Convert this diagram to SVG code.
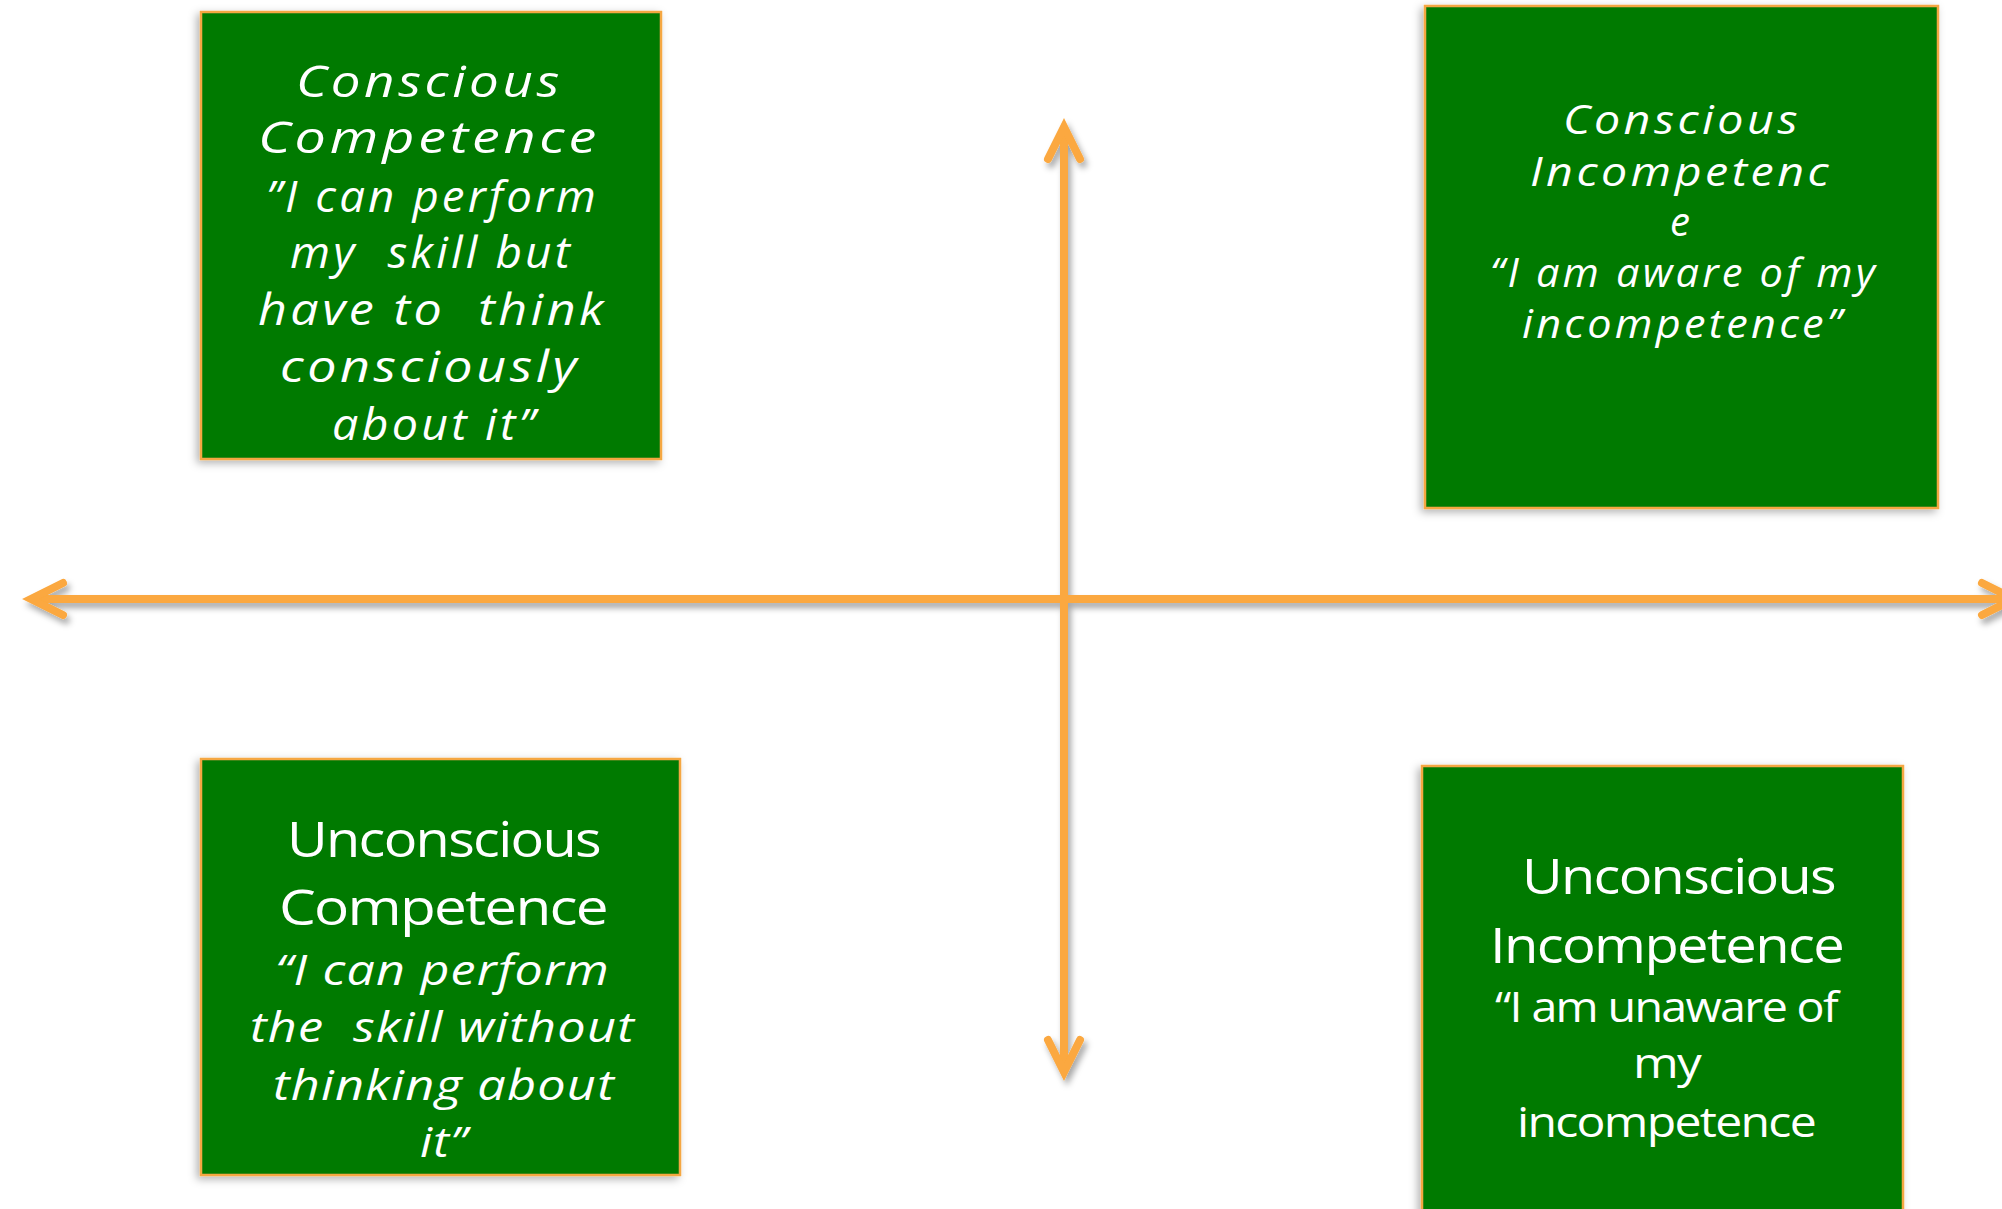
<svg xmlns="http://www.w3.org/2000/svg" width="2002" height="1209" viewBox="0 0 2002 1209">
  <defs>
    <filter id="axisShadow" x="-5%" y="-5%" width="110%" height="110%">
      <feDropShadow dx="3" dy="5" stdDeviation="3" flood-color="#000" flood-opacity="0.35"/>
    </filter>
    <filter id="boxShadow" x="-10%" y="-10%" width="120%" height="120%">
      <feDropShadow dx="-3" dy="3" stdDeviation="4" flood-color="#000" flood-opacity="0.3"/>
    </filter>
    <marker id="chevron" markerUnits="userSpaceOnUse" viewBox="-40 -24 48 48" markerWidth="48" markerHeight="48" refX="0" refY="0" orient="auto-start-reverse" overflow="visible">
      <path d="M -32 -16 L 0 0 L -32 16" fill="none" stroke="#FBA83F" stroke-width="8" stroke-linecap="round" stroke-linejoin="miter"/>
    </marker>
  </defs>
  <style>
    .box { fill: #047A04; stroke: #F5A742; stroke-width: 2.5; filter: url(#boxShadow); }
    .axis { fill: none; stroke: #FBA83F; stroke-width: 8; marker-start: url(#chevron); marker-end: url(#chevron); }
    text { fill: #FFFFFF; font-family: "Open Sans", "Liberation Sans", sans-serif; }
    .it { font-style: italic; }
    .t1 { font-size: 44px; letter-spacing: 3px; }
    .t2 { font-size: 40px; letter-spacing: 3px; }
    .t3 { font-size: 42px; letter-spacing: 1px; }
    .hd { font-size: 50px; letter-spacing: -1.5px; }
    .sb { font-size: 42px; letter-spacing: -1.5px; }
  </style>

  <rect width="2002" height="1209" fill="#FFFFFF"/>

  <!-- axes -->
  <g id="connectors" filter="url(#axisShadow)">
    <line class="axis" x1="31" y1="599" x2="2014" y2="599"/>
    <line class="axis" x1="1064" y1="127" x2="1064" y2="1072"/>
  </g>

  <!-- top-left quadrant -->
  <g id="conscious-competence">
    <rect class="box" x="201" y="12" width="460" height="447"/>
    <text class="it t1" x="296" y="97" textLength="267" lengthAdjust="spacingAndGlyphs">Conscious</text>
    <text class="it t1" x="258" y="153" textLength="342" lengthAdjust="spacingAndGlyphs">Competence</text>
    <text class="it t1" x="266" y="212" textLength="333" lengthAdjust="spacingAndGlyphs">”I can perform</text>
    <text class="it t1" x="290" y="268" textLength="283" lengthAdjust="spacingAndGlyphs" xml:space="preserve">my  skill but</text>
    <text class="it t1" x="258" y="325" textLength="349" lengthAdjust="spacingAndGlyphs" xml:space="preserve">have to  think</text>
    <text class="it t1" x="280" y="382" textLength="300" lengthAdjust="spacingAndGlyphs">consciously</text>
    <text class="it t1" x="332" y="440" textLength="206" lengthAdjust="spacingAndGlyphs">about it”</text>
  </g>

  <!-- top-right quadrant -->
  <g id="conscious-incompetence">
    <rect class="box" x="1425" y="6" width="513" height="502"/>
    <text class="it t2" x="1563" y="134" textLength="238" lengthAdjust="spacingAndGlyphs">Conscious</text>
    <text class="it t2" x="1530" y="186" textLength="302" lengthAdjust="spacingAndGlyphs">Incompetenc</text>
    <text class="it t2" x="1670" y="236" textLength="23" lengthAdjust="spacingAndGlyphs">e</text>
    <text class="it t2" x="1490" y="287" textLength="388" lengthAdjust="spacingAndGlyphs">“I am aware of my</text>
    <text class="it t2" x="1522" y="338" textLength="323" lengthAdjust="spacingAndGlyphs">incompetence”</text>
  </g>

  <!-- bottom-left quadrant -->
  <g id="unconscious-competence">
    <rect class="box" x="201" y="759" width="479" height="416"/>
    <text class="hd" x="287" y="857" textLength="313" lengthAdjust="spacingAndGlyphs">Unconscious</text>
    <text class="hd" x="279" y="925" textLength="328" lengthAdjust="spacingAndGlyphs">Competence</text>
    <text class="it t3" x="275" y="985" textLength="335" lengthAdjust="spacingAndGlyphs">“I can perform</text>
    <text class="it t3" x="250" y="1042" textLength="385" lengthAdjust="spacingAndGlyphs" xml:space="preserve">the  skill without</text>
    <text class="it t3" x="273" y="1100" textLength="342" lengthAdjust="spacingAndGlyphs">thinking about</text>
    <text class="it t3" x="420" y="1157" textLength="48" lengthAdjust="spacingAndGlyphs">it”</text>
  </g>

  <!-- bottom-right quadrant -->
  <g id="unconscious-incompetence">
    <rect class="box" x="1422" y="766" width="481" height="460"/>
    <text class="hd" x="1522" y="894" textLength="313" lengthAdjust="spacingAndGlyphs">Unconscious</text>
    <text class="hd" x="1490" y="963" textLength="353" lengthAdjust="spacingAndGlyphs">Incompetence</text>
    <text class="sb" x="1495" y="1022" textLength="342" lengthAdjust="spacingAndGlyphs">“I am unaware of</text>
    <text class="sb" x="1633" y="1078" textLength="67" lengthAdjust="spacingAndGlyphs">my</text>
    <text class="sb" x="1517" y="1137" textLength="298" lengthAdjust="spacingAndGlyphs">incompetence</text>
  </g>
</svg>
